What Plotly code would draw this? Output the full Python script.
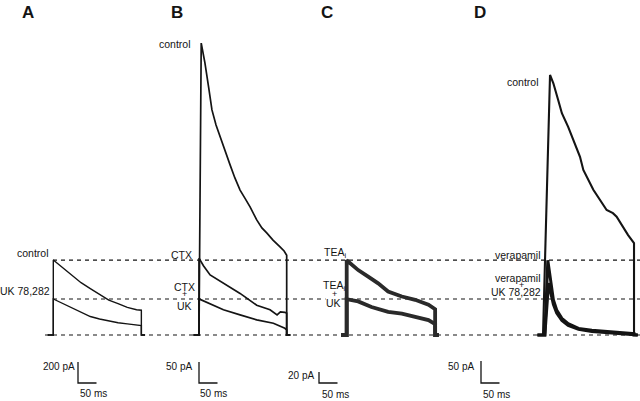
import plotly.graph_objects as go

W, H = 640, 401

# ---------------- data (time: ms from pulse onset, current: pA) ----------------
A_t = [0, 25, 50, 75, 100, 125, 150, 175, 200, 225, 238]
A_control = [714, 643, 571, 498, 441, 384, 332, 299, 263, 241, 236]
A_uk = [343, 300, 255, 212, 176, 152, 132, 117, 106, 94, 89]

B_control_t = [6, 16, 26, 35, 46, 57, 70, 84, 97, 111, 124, 138, 156, 170, 183, 200, 219, 230, 237]
B_control = [695, 648, 590, 536, 500, 471, 440, 405, 374, 345, 326, 305, 274, 255, 243, 226, 210, 200, 190]
B_ctx_t = [0, 12, 30, 66, 111, 156, 192, 211, 220, 232, 237]
B_ctx = [183, 165, 143, 123, 99, 71, 60, 48, 55, 54, 52]
B_ctxuk_t = [0, 30, 66, 111, 156, 201, 232, 237]
B_ctxuk = [86, 75, 60, 48, 36, 28, 16, 12]

C_tea_t = [0, 31, 58, 85, 112, 149, 185, 221, 239]
C_tea = [136, 118, 106, 94, 79, 70, 64, 55, 47]
C_teauk_t = [0, 31, 67, 112, 149, 185, 221, 239]
C_teauk = [65, 61, 51, 42, 39, 33, 27, 20]

D_control_t = [19, 28, 41, 51, 68, 86, 100, 109, 127, 136, 172, 189, 199, 230, 246]
D_control = [591, 572, 534, 504, 473, 436, 405, 375, 345, 330, 284, 277, 269, 227, 209]
D_ver_t = [13, 19, 24, 28, 37, 51, 68, 96, 132, 177, 231, 246]
D_ver = [170, 132, 110, 80, 57, 38, 26, 15, 11, 8, 4, 3]
D_veruk_t = [15, 19, 24, 28, 37, 51, 68, 96, 132, 177, 231, 246]
D_veruk = [118, 100, 85, 70, 50, 33, 22, 13, 8, 5, 2, 1]

# scale bars: (ms, pA)
SCALE_MS = [50, 50, 50, 50]
SCALE_PA = [200, 50, 20, 50]
SCALE_PA_TXT = ["200 pA", "50 pA", "20 pA", "50 pA"]
SCALE_MS_TXT = ["50 ms", "50 ms", "50 ms", "50 ms"]
PANELS = ["A", "B", "C", "D"]

# ---------------- layout geometry (pixels) ----------------
BASE_PX = 335.0          # baseline row
PX_PER_MS = 0.37
ONSET_PX = [53.3, 199.0, 346.7, 543.0]
PX_PER_PA = [0.105, 0.42, 0.55, 0.44]
BAR_CORNER_PX = [(78, 383), (199, 383), (319, 383), (481, 383)]
LETTER_X = [27.5, 177, 327, 480]

FONT = "Arial, Liberation Sans, sans-serif"
INK = "#141414"
LBL = 10.5


def px(x):
    return x / W


def py(y):
    return 1 - y / H


def inv(i, xp, yp):
    return (xp - ONSET_PX[i]) / PX_PER_MS, (BASE_PX - yp) / PX_PER_PA[i]


fig = go.Figure()


def step_trace(i, t, v, onset=0, width=1.4, pre=15, post=10, color=INK):
    xs = [-pre, onset] + list(t) + [t[-1], t[-1] + post]
    ys = [0, 0] + list(v) + [0, 0]
    ax = "" if i == 0 else str(i + 1)
    fig.add_trace(go.Scatter(x=xs, y=ys, mode="lines", xaxis="x" + ax, yaxis="y" + ax,
                             line=dict(color=color, width=width), hoverinfo="skip",
                             showlegend=False))


step_trace(0, A_t, A_control, width=1.4)
step_trace(0, A_t, A_uk, width=1.4)
step_trace(1, B_control_t, B_control, width=1.7)
step_trace(1, B_ctx_t, B_ctx, width=1.7)
step_trace(1, B_ctxuk_t, B_ctxuk, width=1.7)
step_trace(2, C_tea_t, C_tea, width=3.8, color="#2a2a2a")
step_trace(2, C_teauk_t, C_teauk, width=3.8, color="#2a2a2a")
step_trace(3, D_control_t, D_control, width=2.1)
step_trace(3, D_ver_t, D_ver, onset=5, width=3.0)
step_trace(3, D_veruk_t, D_veruk, onset=5, width=3.0)

# scale bars
for i in range(4):
    ax = "" if i == 0 else str(i + 1)
    cx, cy = inv(i, *BAR_CORNER_PX[i])
    fig.add_trace(go.Scatter(x=[cx, cx, cx + SCALE_MS[i]], y=[cy + SCALE_PA[i], cy, cy],
                             mode="lines", xaxis="x" + ax, yaxis="y" + ax,
                             line=dict(color=INK, width=1.3), hoverinfo="skip",
                             showlegend=False))

# axes (invisible, full-figure, pixel-aligned)
lay = {}
for i in range(4):
    ax = "" if i == 0 else str(i + 1)
    xr = [-ONSET_PX[i] / PX_PER_MS, (W - ONSET_PX[i]) / PX_PER_MS]
    yr = [-(H - BASE_PX) / PX_PER_PA[i], BASE_PX / PX_PER_PA[i]]
    xa = dict(range=xr, visible=False, domain=[0, 1], fixedrange=True)
    ya = dict(range=yr, visible=False, domain=[0, 1], fixedrange=True)
    if i > 0:
        xa["overlaying"] = "x"
        ya["overlaying"] = "y"
        xa["anchor"] = "y" + ax
        ya["anchor"] = "x" + ax
    lay["xaxis" + ax] = xa
    lay["yaxis" + ax] = ya

# dashed reference lines at the peak levels of panel A
shapes = []
for lvl, x0 in [(A_control[0], 53), (A_uk[0], 53), (0, 45)]:
    shapes.append(dict(type="line", xref="paper", yref="y", x0=px(x0), x1=1, y0=lvl, y1=lvl,
                       line=dict(color=INK, width=1.2, dash="4px,4px"), layer="below"))

ann = []


def text(s, x, y, size=LBL, xanchor="right", bg=None, bold=False):
    d = dict(text=("<b>%s</b>" % s) if bold else s, x=px(x), y=py(y), xref="paper", yref="paper",
             showarrow=False, xanchor=xanchor, yanchor="middle",
             font=dict(family=FONT, size=size, color=INK), borderpad=0)
    if bg:
        d["bgcolor"] = bg
    ann.append(d)


for i, L in enumerate(PANELS):
    text(L, LETTER_X[i], 12, size=17, xanchor="center", bold=True)

text("control", 50, 253)
text("UK 78,282", 51, 291)

text("control", 192, 44)
text("CTX", 193, 255)
text("CTX", 184, 287, xanchor="center")
text("+", 184.5, 294, size=9, xanchor="center")
text("UK", 184, 306, xanchor="center")

text("TEA<sub>i</sub>", 347, 253)
text("TEA<sub>i</sub>", 334, 286, xanchor="center")
text("+", 334, 294, size=9, xanchor="center")
text("UK", 333, 303, xanchor="center", bg="white")

text("control", 540, 82)
text("verapamil", 542, 255)
text("verapamil", 542, 278)
text("+", 521.7, 285, size=9, xanchor="center")
text("UK 78,282", 542, 292)

PA_TXT_POS = [(76, 366), (193, 366), (315, 375), (475, 366)]
MS_TXT_POS = [(93.5, 393), (213.5, 393), (335, 394), (496.5, 394)]
for i in range(4):
    text(SCALE_PA_TXT[i], *PA_TXT_POS[i], size=10)
    text(SCALE_MS_TXT[i], *MS_TXT_POS[i], size=10, xanchor="center")

fig.update_layout(width=W, height=H, margin=dict(l=0, r=0, t=0, b=0),
                  paper_bgcolor="white", plot_bgcolor="white",
                  shapes=shapes, annotations=ann, showlegend=False, **lay)

fig.write_html("out.html", config={"displayModeBar": False},
               post_script="document.body.style.margin='0';document.body.style.overflow='hidden';")
